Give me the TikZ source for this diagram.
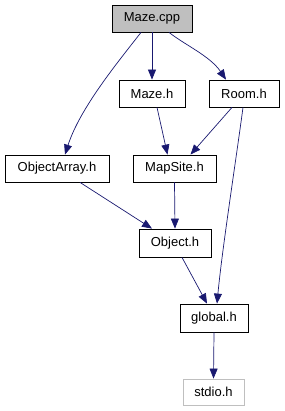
\documentclass[tikz,border=0pt]{standalone}
\usepackage{fontspec}
\setmainfont{Liberation Sans}
\usetikzlibrary{arrows.meta}
\definecolor{edgeblue}{HTML}{191970}
\definecolor{boxgray}{HTML}{BFBFBF}
\begin{document}
\begin{tikzpicture}[x=1pt,y=-1pt,
  filebox/.style={draw=black,line width=0.8pt,fill=white,inner sep=0pt,font=\fontsize{13}{15}\selectfont},
  dep/.style={draw=edgeblue,line width=0.7pt,-{Triangle[length=10pt,width=8pt]}}]
\useasboundingbox (0,0) rectangle (284,411);
\node[filebox,fill=boxgray,minimum width=80pt,minimum height=27pt] (mazecpp) at (152,18.5) {Maze.cpp};
\node[filebox,minimum width=66pt,minimum height=27pt] (mazeh) at (152,93.5) {Maze.h};
\node[filebox,minimum width=70pt,minimum height=27pt] (roomh) at (244,93.5) {Room.h};
\node[filebox,minimum width=104pt,minimum height=27pt] (objarr) at (57,168.5) {ObjectArray.h};
\node[filebox,minimum width=83pt,minimum height=27pt] (mapsite) at (174.5,168.5) {MapSite.h};
\node[filebox,minimum width=72pt,minimum height=28pt] (objecth) at (175,243) {Object.h};
\node[filebox,minimum width=68pt,minimum height=28pt] (globalh) at (214,318) {global.h};
\node[filebox,draw=boxgray,minimum width=61pt,minimum height=26pt] (stdioh) at (213.5,392) {stdio.h};
\draw[dep] (mazecpp.south) -- (mazeh.north);
\draw[dep] ([xshift=17pt]mazecpp.south) .. controls (185,45) and (210,56) .. ([xshift=-18pt]roomh.north);
\draw[dep] ([xshift=-11pt]mazecpp.south) .. controls (118,62) and (80,108) .. ([xshift=8pt]objarr.north);
\draw[dep] ([xshift=5pt]mazeh.south) -- ([xshift=-7pt]mapsite.north);
\draw[dep] ([xshift=-12pt]roomh.south) -- ([xshift=16pt]mapsite.north);
\draw[dep] ([xshift=-1pt]roomh.south) .. controls (236,160) and (222,250) .. ([xshift=3pt]globalh.north);
\draw[dep] ([xshift=23pt]objarr.south) -- ([xshift=-23pt]objecth.north);
\draw[dep] (mapsite.south) -- (objecth.north);
\draw[dep] ([xshift=7pt]objecth.south) -- ([xshift=-7pt]globalh.north);
\draw[dep] (globalh.south) -- (stdioh.north);
\end{tikzpicture}
\end{document}
